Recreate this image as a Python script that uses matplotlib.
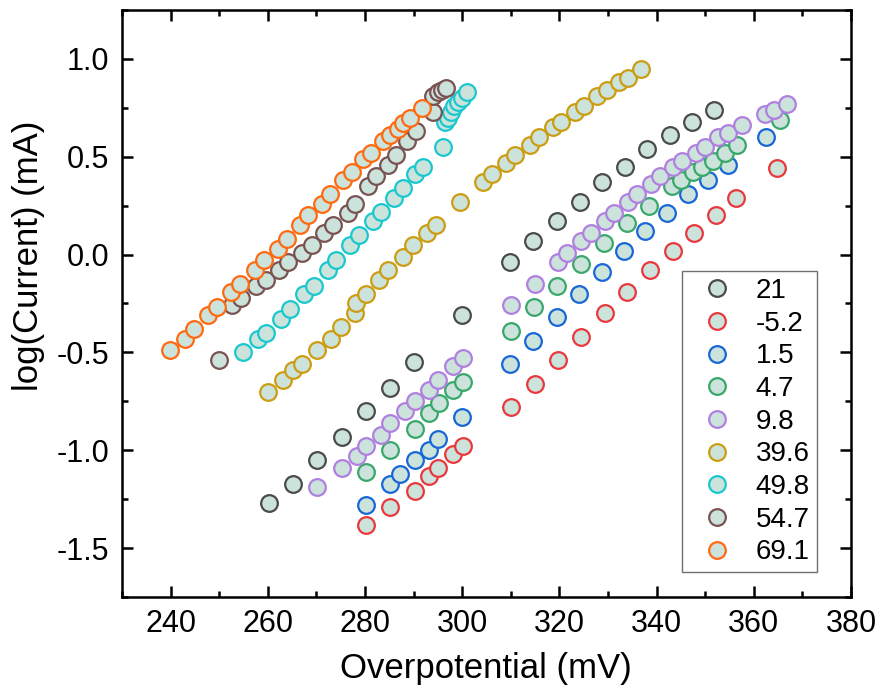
import matplotlib
matplotlib.use("Agg")
import matplotlib.pyplot as plt

plt.rcParams['font.family'] = ['Liberation Sans', 'DejaVu Sans']

# series data (overpotential in mV, log current)
x_21 = [260.3, 265.2, 270.2, 275.3, 280.2, 285.2, 290.0, 300.0, 309.8, 314.6,
        319.4, 324.2, 328.8, 333.5, 338.1, 342.7, 347.2, 351.9]
y_21 = [-1.27, -1.17, -1.05, -0.93, -0.80, -0.68, -0.55, -0.31, -0.04, 0.07,
        0.17, 0.27, 0.37, 0.45, 0.54, 0.61, 0.68, 0.74]

x_m52 = [280.2, 285.2, 290.2, 293.1, 295.1, 298.1, 300.1, 310.0, 314.9, 319.7,
         324.5, 329.3, 334.0, 338.6, 343.3, 347.7, 352.2, 356.3, 364.7]
y_m52 = [-1.38, -1.29, -1.21, -1.13, -1.09, -1.02, -0.98, -0.78, -0.66, -0.54,
         -0.42, -0.30, -0.19, -0.08, 0.02, 0.11, 0.20, 0.29, 0.44]

x_15 = [280.2, 285.2, 287.2, 290.2, 293.1, 295.1, 300.0, 309.8, 314.6, 319.4,
        324.1, 328.7, 333.3, 337.6, 342.1, 346.4, 350.5, 354.6, 362.5]
y_15 = [-1.28, -1.17, -1.12, -1.05, -1.00, -0.94, -0.83, -0.56, -0.44, -0.32,
        -0.20, -0.09, 0.02, 0.12, 0.21, 0.31, 0.38, 0.46, 0.60]

x_47 = [280.2, 285.2, 290.2, 293.2, 295.2, 298.1, 300.1, 310.0, 314.8, 319.6,
        324.4, 329.2, 333.8, 338.4, 343.1, 345.0, 347.5, 349.4, 351.6, 354.0,
        356.5, 365.4]
y_47 = [-1.11, -1.00, -0.89, -0.81, -0.76, -0.69, -0.65, -0.39, -0.27, -0.16,
        -0.05, 0.06, 0.16, 0.25, 0.35, 0.38, 0.42, 0.45, 0.48, 0.52,
        0.56, 0.69]

x_98 = [270.2, 275.3, 278.3, 280.2, 283.3, 285.2, 288.2, 290.2, 293.2, 295.1,
        298.2, 300.1, 310.0, 314.9, 319.7, 321.6, 324.5, 326.5, 329.3, 331.3,
        334.2, 336.0, 338.8, 340.7, 343.4, 345.3, 348.0, 349.9, 352.7, 354.6,
        357.5, 362.2, 364.1, 366.8]
y_98 = [-1.19, -1.09, -1.03, -0.98, -0.92, -0.86, -0.80, -0.75, -0.69, -0.64,
        -0.57, -0.53, -0.26, -0.15, -0.04, 0.01, 0.07, 0.11, 0.17, 0.21,
        0.27, 0.31, 0.36, 0.40, 0.45, 0.48, 0.52, 0.55, 0.60, 0.62,
        0.66, 0.72, 0.74, 0.77]

x_396 = [260.1, 263.2, 265.1, 267.1, 270.1, 273.0, 275.1, 277.9, 278.1, 280.2,
         282.9, 284.8, 287.8, 289.8, 292.8, 294.6, 299.6, 304.3, 306.1, 309.1,
         310.9, 313.9, 315.7, 318.7, 320.4, 323.2, 325.1, 327.8, 329.7, 332.2,
         334.2, 336.8]
y_396 = [-0.70, -0.64, -0.59, -0.56, -0.49, -0.43, -0.37, -0.30, -0.25, -0.20,
         -0.13, -0.08, -0.01, 0.05, 0.11, 0.15, 0.27, 0.37, 0.41, 0.47,
         0.51, 0.56, 0.60, 0.65, 0.68, 0.73, 0.76, 0.81, 0.84, 0.88,
         0.90, 0.95]

x_498 = [254.8, 257.9, 259.7, 262.7, 264.6, 267.5, 269.4, 272.3, 274.0, 277.0,
         278.8, 281.6, 283.3, 285.9, 287.8, 290.2, 291.9, 296.0, 296.4, 297.0,
         297.7, 298.4, 299.1, 299.9, 301.0]
y_498 = [-0.50, -0.43, -0.40, -0.33, -0.28, -0.20, -0.16, -0.08, -0.03, 0.05,
         0.10, 0.17, 0.22, 0.29, 0.34, 0.41, 0.45, 0.55, 0.68, 0.70,
         0.73, 0.76, 0.78, 0.80, 0.83]

x_547 = [250.0, 252.7, 254.4, 257.5, 259.6, 262.3, 264.2, 267.1, 269.0, 271.6,
         273.5, 276.4, 277.9, 280.6, 282.3, 284.8, 286.4, 288.7, 290.5, 293.9,
         293.9, 295.0, 295.8, 296.7]
y_547 = [-0.54, -0.26, -0.22, -0.16, -0.13, -0.08, -0.04, 0.01, 0.05, 0.11,
         0.15, 0.21, 0.26, 0.35, 0.40, 0.46, 0.51, 0.58, 0.63, 0.73,
         0.81, 0.83, 0.84, 0.85]

x_691 = [239.9, 242.9, 244.8, 247.7, 249.6, 252.5, 254.3, 257.3, 259.2, 262.0,
         263.9, 266.6, 268.3, 271.1, 272.8, 275.4, 277.3, 279.5, 281.2, 283.6,
         285.2, 286.7, 287.8, 289.3, 291.7]
y_691 = [-0.49, -0.43, -0.38, -0.31, -0.27, -0.19, -0.15, -0.08, -0.03, 0.03,
         0.08, 0.15, 0.20, 0.26, 0.31, 0.38, 0.42, 0.49, 0.52, 0.58,
         0.61, 0.64, 0.67, 0.70, 0.75]

labels = ['21', '-5.2', '1.5', '4.7', '9.8', '39.6', '49.8', '54.7', '69.1']
xs = [x_21, x_m52, x_15, x_47, x_98, x_396, x_498, x_547, x_691]
ys = [y_21, y_m52, y_15, y_47, y_98, y_396, y_498, y_547, y_691]
edge_colors = ['#4a4a4a', '#e8383d', '#1767d8', '#38a86a', '#b07fe0',
               '#cc9c12', '#19c8ce', '#7a5252', '#ff6a10']
face = '#cce3dc'

fig = plt.figure(figsize=(8.81, 6.98), dpi=100)
ax = fig.add_axes([0.1385, 0.1447, 0.8275, 0.841])

for xv, yv, lab, ec in zip(xs, ys, labels, edge_colors):
    ax.plot(xv, yv, linestyle='none', marker='o', markersize=12,
            markerfacecolor=face, markeredgecolor=ec, markeredgewidth=1.6,
            label=lab)

ax.set_xlim(230, 380)
ax.set_ylim(-1.75, 1.25)
ax.set_xticks(range(240, 381, 20))
ax.set_yticks([-1.5, -1.0, -0.5, 0.0, 0.5, 1.0])
ax.set_xticks(range(230, 381, 10), minor=True)
ax.set_yticks([-1.75, -1.25, -0.75, -0.25, 0.25, 0.75, 1.25], minor=True)
ax.set_yticklabels(['-1.5', '-1.0', '-0.5', '0.0', '0.5', '1.0'])

ax.tick_params(which='both', direction='in', top=True, right=True,
               width=1.8, labelsize=22)
ax.tick_params(which='major', length=8, pad=9)
ax.tick_params(which='minor', length=4)
for sp in ax.spines.values():
    sp.set_linewidth(1.8)

ax.set_xlabel('Overpotential (mV)', fontsize=25)
ax.set_ylabel('log(Current) (mA)', fontsize=25)
ax.xaxis.set_label_coords(0.499, -0.093)
ax.yaxis.set_label_coords(-0.128, 0.581)
ax.yaxis.label.set_verticalalignment('center')

leg = ax.legend(loc='lower right', bbox_to_anchor=(0.953, 0.042),
                borderaxespad=0, fontsize=20, frameon=True, fancybox=False,
                framealpha=1, edgecolor='#707070', labelspacing=0.24,
                handlelength=2.0, handletextpad=0.4, borderpad=0.25)
leg.get_frame().set_linewidth(1.0)

fig.savefig('out.png', dpi=100)
